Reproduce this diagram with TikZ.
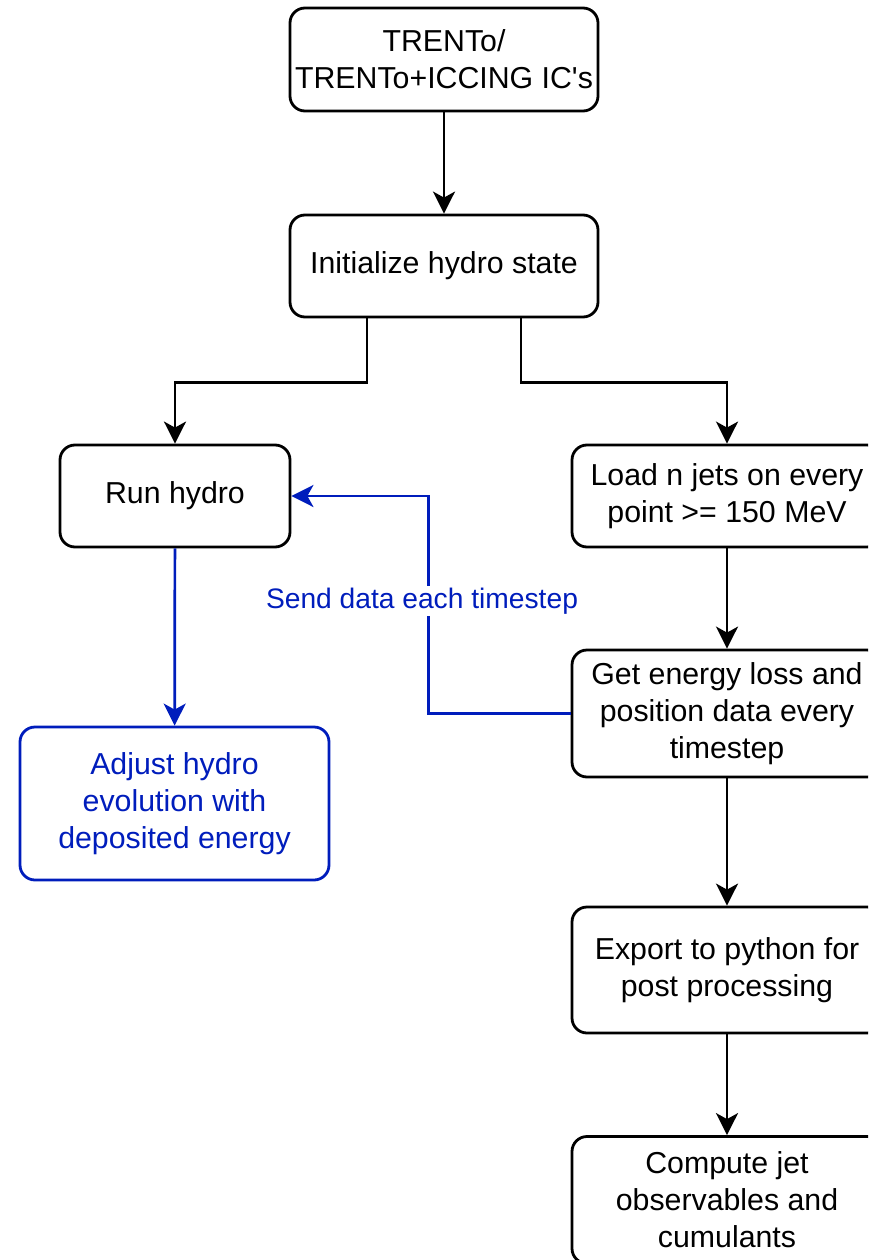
\documentclass[tikz,border=0pt]{standalone}
\usepackage{fontspec}
\setmainfont{Liberation Sans}
\usetikzlibrary{arrows.meta}
\definecolor{dblue}{HTML}{001DBC}
\begin{document}
\begin{tikzpicture}[x=1pt,y=-1pt,
  box/.style={draw=black, line width=2.8pt, rounded corners=15pt, align=center,
    font=\fontsize{30.3}{37}\selectfont, inner sep=0pt, fill=white},
  bluebox/.style={box, draw=dblue, text=dblue},
  arr/.style={line width=2.7pt, -{Stealth[length=22pt,width=22pt,inset=6pt]}},
  barr/.style={arr, draw=dblue},
  lbl/.style={font=\fontsize{28.2}{33}\selectfont, text=dblue, fill=white, inner sep=2pt}
]
\useasboundingbox (0,0) rectangle (868,1260);
\clip (0,0) rectangle (868,1260);
\node[box, minimum width=308pt, minimum height=103pt] (top) at (444,59.5) {TRENTo/\\TRENTo+ICCING IC\textquotesingle s};
\node[box, minimum width=308pt, minimum height=102pt] (init) at (444,266) {Initialize hydro state};
\node[box, minimum width=230pt, minimum height=102pt] (run) at (175,496) {Run hydro};
\node[box, minimum width=310pt, minimum height=102pt] (load) at (727,496) {Load n jets on every\\point >= 150 MeV};
\node[box, minimum width=310pt, minimum height=127pt] (get) at (727,713.5) {Get energy loss and\\position data every\\timestep};
\node[box, minimum width=310pt, minimum height=126pt] (export) at (727,970) {Export to python for\\post processing};
\node[box, minimum width=310pt, minimum height=127pt] (compute) at (727,1200) {Compute jet\\observables and\\cumulants};
\node[bluebox, minimum width=309pt, minimum height=153pt] (adjust) at (174.5,803.5) {Adjust hydro\\evolution with\\deposited energy};

\draw[arr] (top) -- (init);
\draw[arr] ([xshift=-77pt]init.south) -- ++(0,64) -| (run.north);
\draw[arr] ([xshift=77pt]init.south) -- ++(0,64) -| (load.north);
\draw[arr] (load) -- (get);
\draw[arr] (get) -- (export);
\draw[arr] (export) -- (compute);
\draw[barr] (run) -- (adjust);
\draw[barr] (get.west) -- ++(-142,0) |- (run.east);
\node[lbl] (send) at (422,601) {Send data each timestep};
\end{tikzpicture}
\end{document}
